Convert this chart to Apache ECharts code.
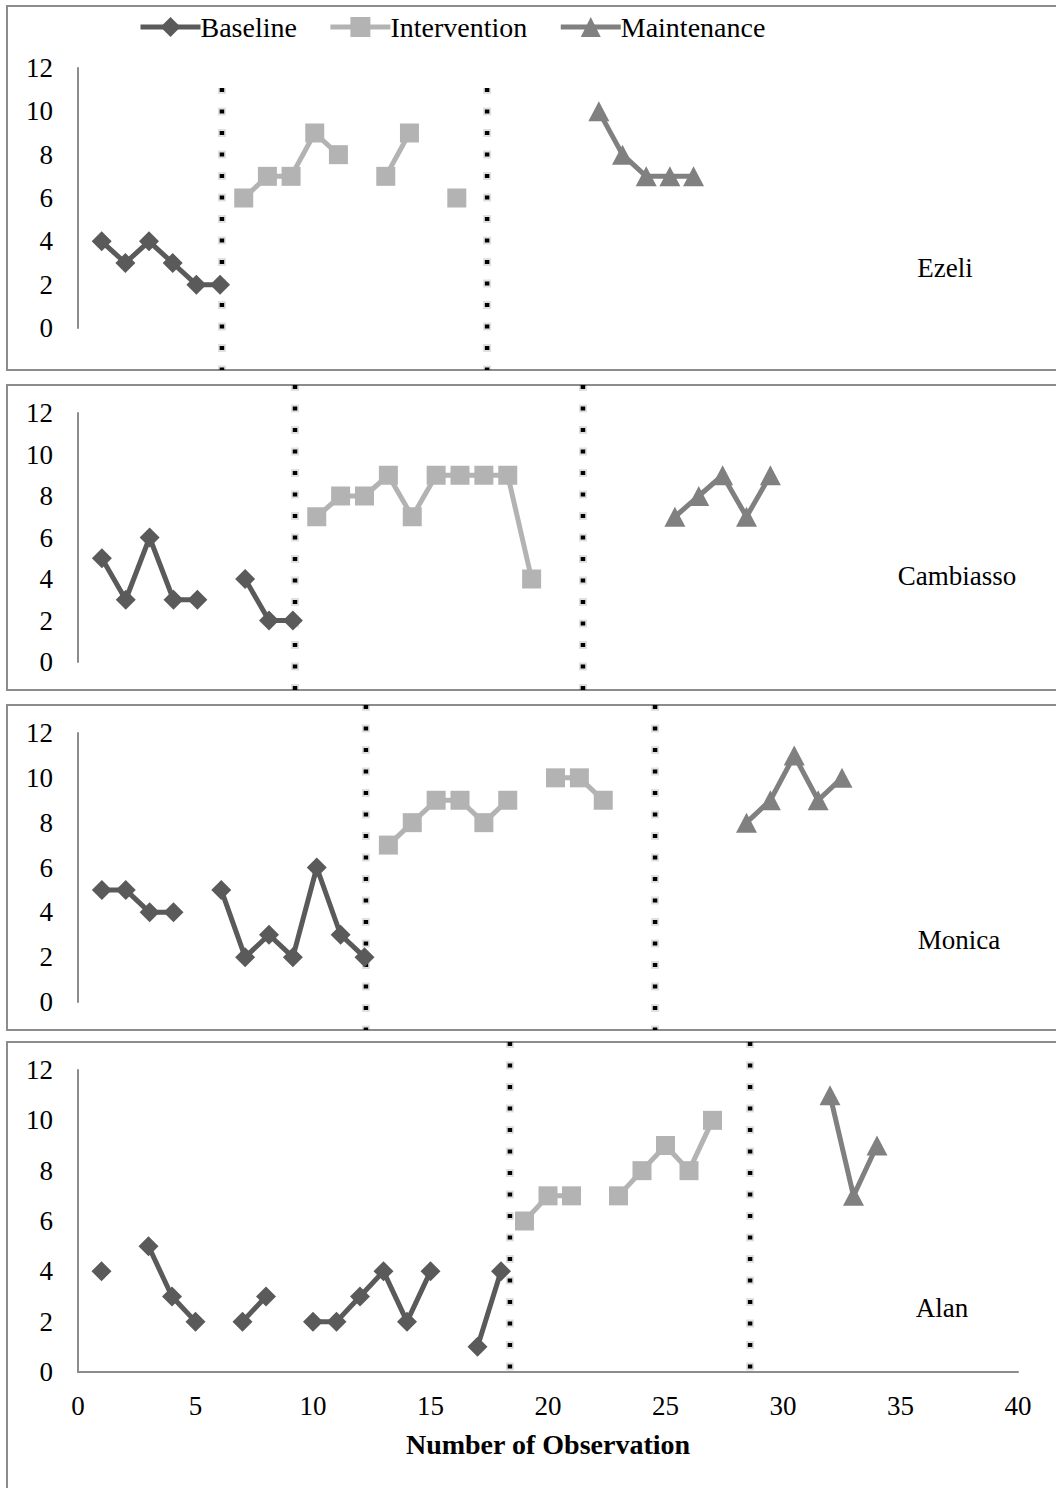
<!DOCTYPE html>
<html><head><meta charset="utf-8">
<script src="https://cdn.jsdelivr.net/npm/echarts@6/dist/echarts.min.js"></script>
<style>html,body{margin:0;padding:0;background:#fff}#c{width:1056px;height:1488px}</style>
</head><body><div id="c"></div>
<script>
// ---------- data ----------
const seriesNames = ['Baseline', 'Intervention', 'Maintenance'];
const participants = ['Ezeli', 'Cambiasso', 'Monica', 'Alan'];
const xAxisTitle = 'Number of Observation';

const ezeliBaselineX = [1, 2, 3, 4, 5, 6];
const ezeliBaselineY = [4, 3, 4, 3, 2, 2];
const ezeliInterventionX = [7, 8, 9, 10, 11, 12, 13, 14, 15, 16];
const ezeliInterventionY = [6, 7, 7, 9, 8, null, 7, 9, null, 6];
const ezeliMaintenanceX = [22, 23, 24, 25, 26];
const ezeliMaintenanceY = [10, 8, 7, 7, 7];
const ezeliPhaseChanges = [6.08, 17.28];

const cambiassoBaselineX = [1, 2, 3, 4, 5, 6, 7, 8, 9];
const cambiassoBaselineY = [5, 3, 6, 3, 3, null, 4, 2, 2];
const cambiassoInterventionX = [10, 11, 12, 13, 14, 15, 16, 17, 18, 19];
const cambiassoInterventionY = [7, 8, 8, 9, 7, 9, 9, 9, 9, 4];
const cambiassoMaintenanceX = [25, 26, 27, 28, 29];
const cambiassoMaintenanceY = [7, 8, 9, 7, 9];
const cambiassoPhaseChanges = [9.09, 21.15];

const monicaBaselineX = [1, 2, 3, 4, 5, 6, 7, 8, 9, 10, 11, 12];
const monicaBaselineY = [5, 5, 4, 4, null, 5, 2, 3, 2, 6, 3, 2];
const monicaInterventionX = [13, 14, 15, 16, 17, 18, 19, 20, 21, 22];
const monicaInterventionY = [7, 8, 9, 9, 8, 9, null, 10, 10, 9];
const monicaMaintenanceX = [28, 29, 30, 31, 32];
const monicaMaintenanceY = [8, 9, 11, 9, 10];
const monicaPhaseChanges = [12.06, 24.17];

const alanBaselineX = [1, 2, 3, 4, 5, 6, 7, 8, 9, 10, 11, 12, 13, 14, 15, 16, 17, 18];
const alanBaselineY = [4, null, 5, 3, 2, null, 2, 3, null, 2, 2, 3, 4, 2, 4, null, 1, 4];
const alanInterventionX = [19, 20, 21, 22, 23, 24, 25, 26, 27];
const alanInterventionY = [6, 7, 7, null, 7, 8, 9, 8, 10];
const alanMaintenanceX = [32, 33, 34];
const alanMaintenanceY = [11, 7, 9];
const alanPhaseChanges = [18.38, 28.6];

const yMin = 0, yMax = 12, yStep = 2;
const xMin = 0, xMax = 40, xStep = 5;

// ---------- layout / style ----------
const FONT = 'Liberation Serif';
const colors = ['#5a5a5a', '#b3b3b3', '#808080'];
const symbols = ['diamond', 'rect', 'triangle'];
const symbolSizes = [[20, 20], [19, 19], [21, 20]];

const panelData = [
  [[ezeliBaselineX, ezeliBaselineY], [ezeliInterventionX, ezeliInterventionY], [ezeliMaintenanceX, ezeliMaintenanceY], ezeliPhaseChanges],
  [[cambiassoBaselineX, cambiassoBaselineY], [cambiassoInterventionX, cambiassoInterventionY], [cambiassoMaintenanceX, cambiassoMaintenanceY], cambiassoPhaseChanges],
  [[monicaBaselineX, monicaBaselineY], [monicaInterventionX, monicaInterventionY], [monicaMaintenanceX, monicaMaintenanceY], monicaPhaseChanges],
  [[alanBaselineX, alanBaselineY], [alanInterventionX, alanInterventionY], [alanMaintenanceX, alanMaintenanceY], alanPhaseChanges]
];

const layout = [
  { boxTop: 6,    boxBottom: 370,  plotTop: 68,   plotBottom: 328,  xEnd: 1025, phaseTop: 88,   phaseBottom: 370,  label: [945, 268] },
  { boxTop: 385,  boxBottom: 690,  plotTop: 413,  plotBottom: 662,  xEnd: 1033, phaseTop: 385,  phaseBottom: 690,  label: [957, 576] },
  { boxTop: 705,  boxBottom: 1030, plotTop: 733,  plotBottom: 1002, xEnd: 1033, phaseTop: 705,  phaseBottom: 1030, label: [959, 940] },
  { boxTop: 1042, boxBottom: 1510, plotTop: 1070, plotBottom: 1372, xEnd: 1018, phaseTop: 1042, phaseBottom: 1372, label: [942, 1308] }
];
const W = 1056, H = 1488, PLOT_LEFT = 78;

const grids = [], xAxes = [], yAxes = [], series = [], graphics = [];

layout.forEach((L, p) => {
  const gi = p * 2;
  grids.push({ left: PLOT_LEFT, right: W - L.xEnd, top: L.plotTop, height: L.plotBottom - L.plotTop });
  grids.push({ left: PLOT_LEFT, right: W - L.xEnd, top: L.phaseTop, height: L.phaseBottom - L.phaseTop });

  const isLast = p === layout.length - 1;
  xAxes.push(isLast ? {
    gridIndex: gi, type: 'value', min: xMin, max: xMax, interval: xStep,
    axisLine: { show: true, onZero: false, lineStyle: { color: '#8c8c8c', width: 2 } },
    axisTick: { show: false }, splitLine: { show: false },
    axisLabel: { fontSize: 27, fontFamily: FONT, color: '#000', margin: 20 },
    name: xAxisTitle, nameLocation: 'middle', nameGap: 58,
    nameTextStyle: { fontSize: 28, fontWeight: 'bold', fontFamily: FONT, color: '#000' }
  } : { gridIndex: gi, type: 'value', min: xMin, max: xMax, show: false });
  xAxes.push({ gridIndex: gi + 1, type: 'value', min: xMin, max: xMax, show: false });

  yAxes.push({
    gridIndex: gi, type: 'value', min: yMin, max: yMax, interval: yStep,
    axisLine: { show: true, lineStyle: { color: '#8c8c8c', width: 2 } },
    axisTick: { show: false }, splitLine: { show: false },
    axisLabel: { fontSize: 27, fontFamily: FONT, color: '#000', margin: 25 }
  });
  yAxes.push({ gridIndex: gi + 1, type: 'value', min: 0, max: 1, show: false });

  const pd = panelData[p];
  for (let s = 0; s < 3; s++) {
    const [xs, ys] = pd[s];
    series.push({
      type: 'line', name: seriesNames[s], xAxisIndex: gi, yAxisIndex: gi,
      data: xs.map((x, i) => [x, ys[i] === null ? '-' : ys[i]]),
      symbol: symbols[s], symbolSize: symbolSizes[s], showSymbol: true,
      connectNulls: false, clip: false,
      itemStyle: { color: colors[s] },
      lineStyle: { color: colors[s], width: 5 },
      z: 3, silent: true
    });
  }
  pd[3].forEach(px => {
    series.push({
      type: 'line', name: 'phase-halo', xAxisIndex: gi + 1, yAxisIndex: gi + 1,
      data: [[px, 1], [px, 0]], symbol: 'none', clip: false, silent: true, z: 1,
      lineStyle: { color: 'rgba(0,0,0,0.12)', width: 8, type: [8, 13.5], dashOffset: 2, cap: 'butt' }
    });
    series.push({
      type: 'line', name: 'phase', xAxisIndex: gi + 1, yAxisIndex: gi + 1,
      data: [[px, 1], [px, 0]], symbol: 'none', clip: false, silent: true, z: 2,
      lineStyle: { color: '#000', width: 4.5, type: [4, 17.5], cap: 'butt' }
    });
  });

  graphics.push({
    type: 'rect', silent: true, z: 0,
    shape: { x: 7, y: L.boxTop, width: W + 20, height: L.boxBottom - L.boxTop },
    style: { fill: 'none', stroke: '#8c8c8c', lineWidth: 2 }
  });
  graphics.push({
    type: 'text', silent: true, z: 5,
    style: { text: participants[p], x: L.label[0], y: L.label[1], fontSize: 27, fontFamily: FONT,
             fill: '#000', align: 'center', verticalAlign: 'middle', textAlign: 'center', textVerticalAlign: 'middle' }
  });
});

const chart = echarts.init(document.getElementById('c'), null, { renderer: 'svg', width: W, height: H });
chart.setOption({
  animation: false,
  backgroundColor: '#fff',
  legend: {
    data: seriesNames, left: 133, top: 8, itemWidth: 60, itemHeight: 25, itemGap: 31,
    lineStyle: { width: 5 },
    textStyle: { fontSize: 28, fontFamily: FONT, color: '#000', padding: [0, 0, 0, -5] }
  },
  grid: grids, xAxis: xAxes, yAxis: yAxes, series: series, graphic: graphics
});
</script></body></html>
